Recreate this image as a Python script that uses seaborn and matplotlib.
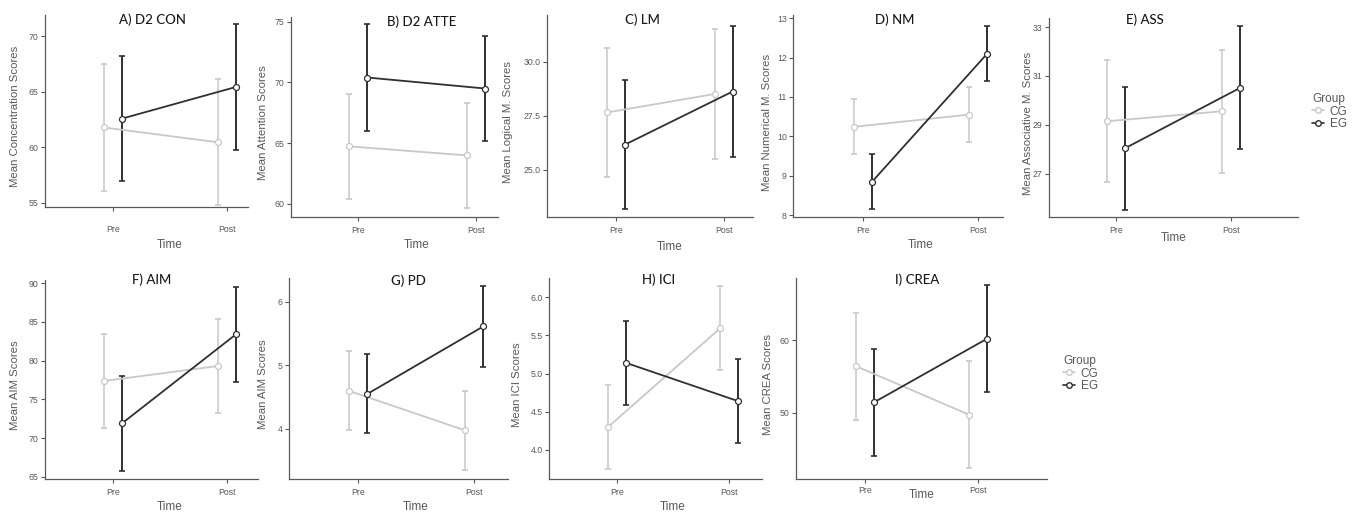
import pandas as pd
import seaborn as sns
import matplotlib.pyplot as plt
from matplotlib.lines import Line2D

# panel text
titles = ["A) D2 CON", "B) D2 ATTE", "C) LM", "D) NM", "E) ASS",
          "F) AIM", "G) PD", "H) ICI", "I) CREA"]
ylabels = ["Mean Concentration Scores", "Mean Attention Scores",
           "Mean Logical M. Scores", "Mean Numerical M. Scores",
           "Mean Associative M. Scores", "Mean AIM Scores", "Mean AIM Scores",
           "Mean ICI Scores", "Mean CREA Scores"]
times = ["Pre", "Post"]
groups = ["CG", "EG"]

# means and error bar half-widths, [Pre, Post] for each panel
cg_mean = [[61.78, 60.44], [64.73, 63.98], [27.65, 28.51], [10.24, 10.55],
           [29.14, 29.55], [77.37, 79.31], [4.60, 3.98], [4.30, 5.59],
           [56.45, 49.77]]
cg_err = [[5.70, 5.70], [4.35, 4.33], [3.00, 3.02], [0.70, 0.70],
          [2.49, 2.52], [6.10, 6.10], [0.62, 0.62], [0.55, 0.55],
          [7.38, 7.38]]
eg_mean = [[62.58, 65.44], [70.41, 69.50], [26.15, 28.62], [8.85, 12.10],
           [28.04, 30.51], [71.90, 83.42], [4.55, 5.61], [5.14, 4.64],
           [51.47, 60.23]]
eg_err = [[5.67, 5.69], [4.39, 4.35], [3.00, 3.05], [0.69, 0.70],
          [2.52, 2.52], [6.15, 6.15], [0.62, 0.63], [0.55, 0.55],
          [7.35, 7.40]]

yticks = [[55, 60, 65, 70], [60, 65, 70, 75], [25.0, 27.5, 30.0],
          [8, 9, 10, 11, 12, 13], [27, 29, 31, 33], [65, 70, 75, 80, 85, 90],
          [4, 5, 6], [4.0, 4.5, 5.0, 5.5, 6.0], [50, 60]]
ytick_labels = [["55", "60", "65", "70"], ["60", "65", "70", "75"],
                ["25.0", "27.5", "30.0"], ["8", "9", "10", "11", "12", "13"],
                ["27", "29", "31", "33"], ["65", "70", "75", "80", "85", "90"],
                ["4", "5", "6"], ["4.0", "4.5", "5.0", "5.5", "6.0"],
                ["50", "60"]]

# long table
rows = []
for i in range(len(titles)):
    for g, m, e in [("CG", cg_mean[i], cg_err[i]), ("EG", eg_mean[i], eg_err[i])]:
        for t in range(2):
            rows.append({"panel": i, "Group": g, "Time": times[t], "t": t,
                         "mean": m[t], "err": e[t]})
df = pd.DataFrame(rows)
dodge = {"CG": -0.08, "EG": 0.08}
df["x"] = df["t"] + df["Group"].map(dodge)

palette = {"CG": "#c8c8c8", "EG": "#303030"}

# layout in pixels: left, right, top, bottom of each panel
W, H = 1365, 516
boxes = [(45, 248, 15, 207), (291, 498, 17, 217), (547, 753, 15, 217),
         (793, 1003, 15, 217), (1049, 1298, 18, 217),
         (45, 258, 280, 479), (289, 508, 278, 479), (549, 762, 278, 479),
         (796, 1047, 278, 479)]
xlims = [(-0.596, 1.184), (-0.568, 1.186), (-0.639, 1.269), (-0.609, 1.217),
         (-0.583, 1.583), (-0.596, 1.272), (-0.595, 1.293), (-0.607, 1.295),
         (-0.611, 1.611)]
ylims = [(54.6, 71.93), (58.89, 75.41), (22.8, 32.17), (7.95, 13.08),
         (25.22, 33.37), (64.7, 90.43), (3.215, 6.37), (3.62, 6.25),
         (40.9, 68.6)]
title_xy = [(152, 20), (422, 22), (642, 20), (895, 20), (1145, 20),
            (152, 280), (408, 281), (659, 280), (917, 280)]
ylab_x = [15, 263, 508, 767, 1028, 15, 263, 517, 768]
time_y = [245, 245, 247, 245, 238, 507, 507, 507, 495]
tick_y = [227, 228, 228, 228, 228, 490, 490, 490, 488]

sns.set_theme(style="white")
plt.rcParams["font.family"] = ["Liberation Sans", "DejaVu Sans"]
grey = "#595959"

fig = plt.figure(figsize=(W / 100, H / 100), dpi=100)

for i in range(len(titles)):
    l, r, t, b = boxes[i]
    ax = fig.add_axes([l / W, 1 - b / H, (r - l) / W, (b - t) / H])
    sub = df[df["panel"] == i]

    for g in groups:
        gs = sub[sub["Group"] == g]
        eb = ax.errorbar(gs["x"], gs["mean"], yerr=gs["err"], fmt="none",
                         ecolor=palette[g], color=palette[g],
                         elinewidth=1.4 if g == "EG" else 1.1,
                         capsize=2, capthick=1.2, zorder=1)
        for cap in eb[1]:
            cap.set_color(palette[g])
            cap.set_markeredgecolor(palette[g])

    sns.lineplot(data=sub, x="x", y="mean", hue="Group", hue_order=groups,
                 palette=palette, marker="o", markersize=4.3, linewidth=1.3,
                 errorbar=None, legend=False, ax=ax, zorder=3)
    for line in ax.lines:
        if line.get_marker() != "o":
            continue
        c = line.get_color()
        line.set_markerfacecolor("white")
        line.set_markeredgecolor(c)
        line.set_markeredgewidth(0.9)

    ax.set_xlim(*xlims[i])
    ax.set_ylim(*ylims[i])
    ax.set_xticks([0, 1])
    ax.set_xticklabels(times)
    ax.set_yticks(yticks[i])
    ax.set_yticklabels(ytick_labels[i])
    pad_px = tick_y[i] - b - 3.5 - 3
    ax.tick_params(axis="x", length=3, width=0.8, color=grey, labelsize=6.3,
                   labelcolor=grey, pad=pad_px * 0.72, bottom=True)
    ax.tick_params(axis="y", length=3, width=0.8, color=grey, labelsize=6.3,
                   labelcolor=grey, pad=1.5, left=True)
    for s in ["top", "right"]:
        ax.spines[s].set_visible(False)
    for s in ["left", "bottom"]:
        ax.spines[s].set_color(grey)
        ax.spines[s].set_linewidth(0.9)

    ax.set_ylabel(ylabels[i], fontsize=8.2, color=grey)
    ax.yaxis.set_label_coords((ylab_x[i] - l) / (r - l), 0.47)
    ax.yaxis.label.set_va("center")
    ax.set_xlabel("Time", fontsize=8.5, color=grey)
    x0, x1 = xlims[i]
    ax.xaxis.set_label_coords((0.5 - x0) / (x1 - x0), -(time_y[i] - b) / (b - t))
    ax.xaxis.label.set_va("center")

    tx, ty = title_xy[i]
    fig.text(tx / W, 1 - ty / H, titles[i], ha="center", va="center",
             fontsize=9.5, color="#1a1a1a", family=["Lato", "DejaVu Sans"],
             fontweight="medium")

# legends
handles = [Line2D([0], [0], color=palette[g], marker="o", markersize=4,
                  markerfacecolor="white", markeredgecolor=palette[g],
                  markeredgewidth=1.0, linewidth=1.2) for g in groups]
for lx, ly in [(1312, 93), (1063, 355)]:
    leg = fig.legend(handles, groups, title="Group", frameon=False,
                     loc="upper left", bbox_to_anchor=(lx / W, 1 - ly / H),
                     fontsize=8.5, title_fontsize=8.5, handlelength=1.0,
                     handletextpad=0.5, labelspacing=0.05, borderpad=0,
                     borderaxespad=0, alignment="left")
    leg.get_title().set_color(grey)
    for txt in leg.get_texts():
        txt.set_color(grey)

fig.savefig("out.png", dpi=100, facecolor="white")
